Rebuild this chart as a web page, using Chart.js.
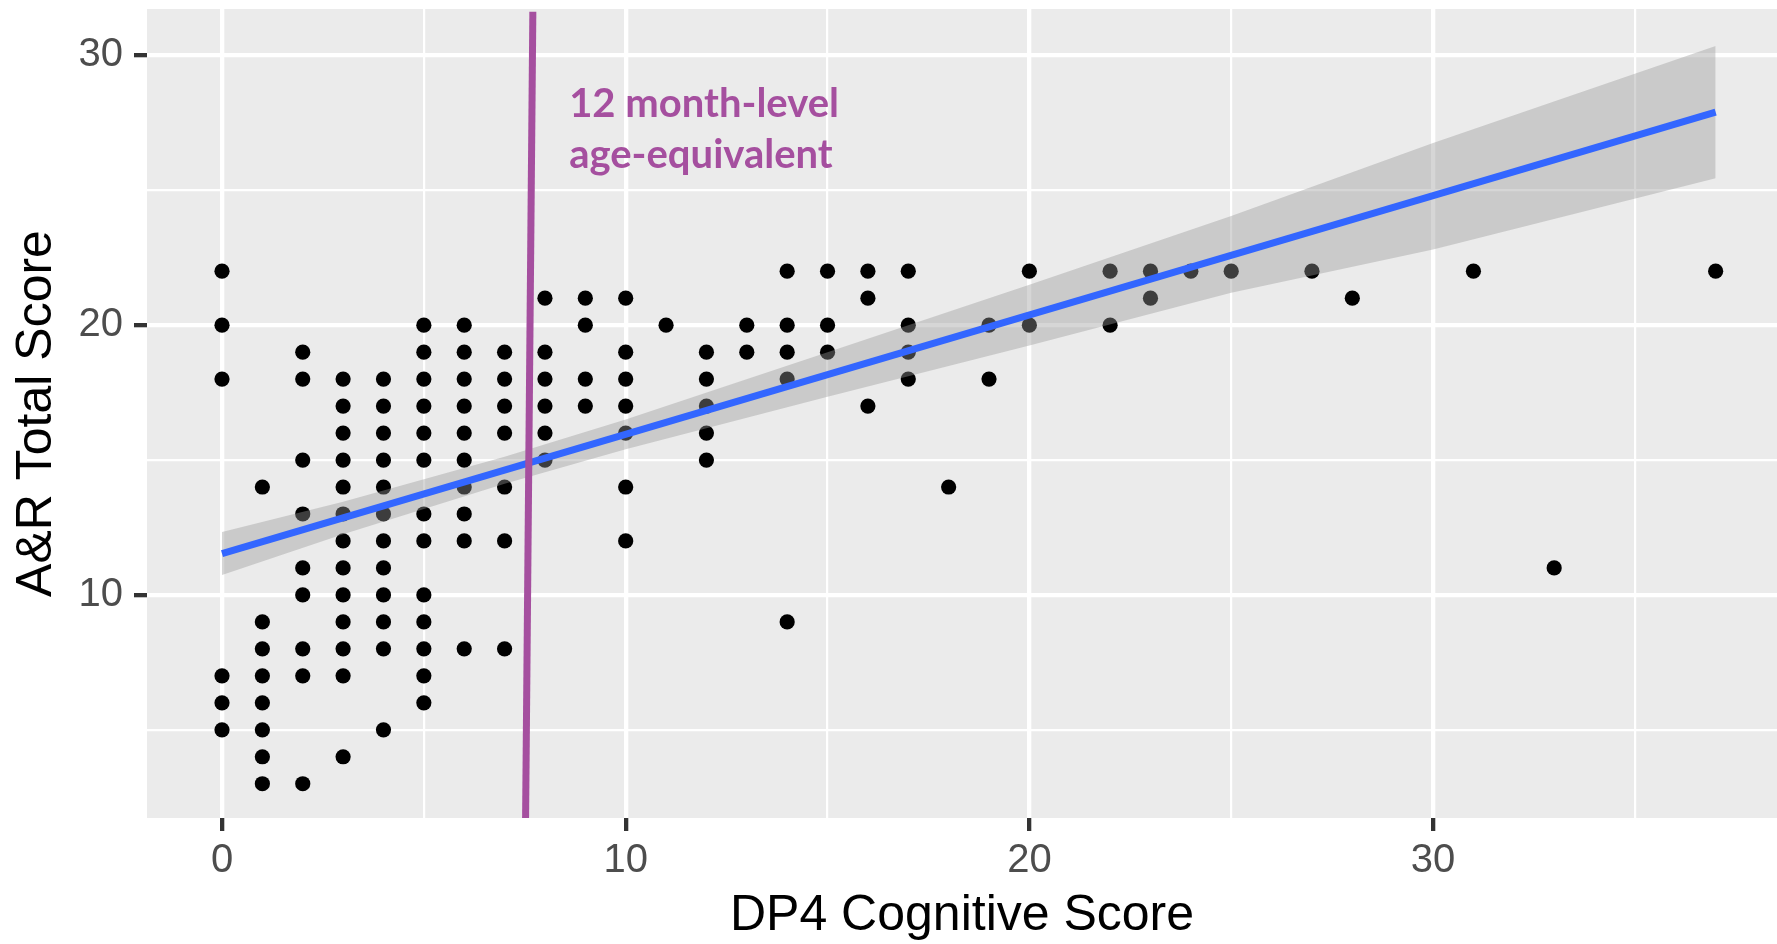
<!DOCTYPE html>
<html>
<head>
<meta charset="utf-8">
<script src="https://cdn.jsdelivr.net/npm/chart.js@4.4.1/dist/chart.umd.min.js"></script>
<style>
  body { margin:0; background:#fff; }
  canvas { display:block; }
</style>
</head>
<body>
<canvas id="dp4_chart" width="1777" height="944"></canvas>
<script>
// DP4 cognitive score (x) and the A&R scores seen at each one
const dp4Scores = [0,1,2,3,4,5,6,7,8,9,10,11,12,13,14,15,16,17,18,19,20,22,23,24,25,27,28,31,33,37];
const arScores = [
    [22,20,18,7,6,5],
    [14,9,8,7,6,5,4,3],
    [19,18,15,13,11,10,8,7,3],
    [18,17,16,15,14,13,12,11,10,9,8,7,4],
    [18,17,16,15,14,13,12,11,10,9,8,5],
    [20,19,18,17,16,15,13,12,10,9,8,7,6],
    [20,19,18,17,16,15,14,13,12,8],
    [19,18,17,16,14,12,8],
    [21,19,18,17,16,15],
    [21,20,18,17],
    [21,19,18,17,16,14,12],
    [20],
    [19,18,17,16,15],
    [20,19],
    [22,20,19,18,9],
    [22,20,19],
    [22,21,17],
    [22,20,19,18],
    [14],
    [20,18],
    [22,20],
    [22,20],
    [22,21],
    [22],
    [22],
    [22],
    [21],
    [22],
    [11],
    [22]
];

// linear fit and its confidence band
const fitX = [0, 37];
const fitY = [11.53, 27.9];
const bandX = [0, 3, 7, 10, 15, 20, 25, 30, 37];
const bandUpper = [12.33, 13.45, 15.12, 16.5, 19.0, 21.5, 24.05, 26.75, 30.35];
const bandLower = [10.74, 12.25, 14.12, 15.4, 17.35, 19.25, 21.2, 22.8, 25.45];

// 12 month-level cut-off line
const cutoffX = [7.52, 7.70];
const cutoffY = [1.73, 31.62];

const xTicks = [0, 5, 10, 15, 20, 25, 30, 35];
const yTicks = [5, 10, 15, 20, 25, 30];
const cutoffLabel = ["12 month-level", "age-equivalent"];

let points = new Array();
for(let i=0; i<dp4Scores.length; i++) {
    for(let j=0; j<arScores[i].length; j++) {
        points.push({x:dp4Scores[i], y:arScores[i][j]});
    }
}
const pairs = (xs, ys) => xs.map((x, i) => ({x:x, y:ys[i]}));

const isMajor = v => v % 10 === 0;

const panelBg = {
    id:"panelBg",
    beforeDraw(chart) {
        const a = chart.chartArea;
        const ctx = chart.ctx;
        ctx.save();
        ctx.fillStyle = "#EBEBEB";
        ctx.fillRect(a.left, a.top, a.right - a.left, a.bottom - a.top);
        ctx.restore();
    }
};

const cutoffText = {
    id:"cutoffText",
    afterDatasetsDraw(chart) {
        const ctx = chart.ctx;
        const px = chart.scales.x.getPixelForValue(8.6);
        const py = chart.scales.y.getPixelForValue(27.73);
        ctx.save();
        ctx.fillStyle = "#A54F9F";
        ctx.font = "bold 40px Lato";
        ctx.textBaseline = "alphabetic";
        ctx.textAlign = "left";
        ctx.fillText(cutoffLabel[0], px, py);
        ctx.fillText(cutoffLabel[1], px, py + 51);
        ctx.restore();
    }
};

// keep the panel where the reference has it, no extra room for labels
const fitBox = (s, size) => {
    if (s.isHorizontal()) s.height = size; else s.width = size;
    s.paddingTop = 0;
    s.paddingBottom = 0;
    s.paddingLeft = 0;
    s.paddingRight = 0;
};

const tickFont = {family:"Liberation Sans", size:40};

new Chart(document.getElementById("dp4_chart"), {
    type:"scatter",
    plugins:[panelBg, cutoffText],
    data:{
        datasets:[
            {
                label:"cutoff",
                data:pairs(cutoffX, cutoffY),
                showLine:true,
                borderColor:"#A54F9F",
                borderWidth:7,
                borderCapStyle:"butt",
                pointRadius:0,
                order:0
            },
            {
                label:"fit",
                data:pairs(fitX, fitY),
                showLine:true,
                borderColor:"#3366FF",
                borderWidth:7,
                pointRadius:0,
                order:1
            },
            {
                label:"upper",
                data:pairs(bandX, bandUpper),
                showLine:true,
                borderWidth:0,
                borderColor:"rgba(0,0,0,0)",
                backgroundColor:"rgba(153,153,153,0.4)",
                fill:"+1",
                pointRadius:0,
                order:2
            },
            {
                label:"lower",
                data:pairs(bandX, bandLower),
                showLine:true,
                borderWidth:0,
                borderColor:"rgba(0,0,0,0)",
                pointRadius:0,
                order:2
            },
            {
                label:"A&R",
                data:points,
                backgroundColor:"#000000",
                borderWidth:0,
                pointRadius:7.6,
                pointHoverRadius:7.6,
                order:3
            }
        ]
    },
    options:{
        responsive:false,
        animation:false,
        layout:{autoPadding:false, padding:{top:9, left:0, right:0, bottom:0}},
        plugins:{
            legend:{display:false},
            tooltip:{enabled:false}
        },
        scales:{
            x:{
                type:"linear",
                min:-1.858,
                max:38.52,
                afterBuildTicks:s => { s.ticks = xTicks.map(v => ({value:v})); },
                afterFit:s => fitBox(s, 126),
                border:{display:false},
                grid:{
                    color:"#FFFFFF",
                    lineWidth:c => isMajor(c.tick.value) ? 4.3 : 2.2,
                    tickColor:c => isMajor(c.tick.value) ? "#333333" : "rgba(0,0,0,0)",
                    tickWidth:4.3,
                    tickLength:13
                },
                ticks:{
                    color:"#4D4D4D",
                    font:tickFont,
                    padding:6,
                    maxRotation:0,
                    autoSkip:false,
                    callback:v => isMajor(v) ? String(v) : ""
                },
                title:{
                    display:true,
                    text:"DP4 Cognitive Score",
                    color:"#000000",
                    font:{family:"Liberation Sans", size:50, lineHeight:1},
                    padding:{top:0, bottom:3}
                }
            },
            y:{
                min:1.73,
                max:31.72,
                afterBuildTicks:s => { s.ticks = yTicks.map(v => ({value:v})); },
                afterFit:s => fitBox(s, 147),
                border:{display:false},
                grid:{
                    color:"#FFFFFF",
                    lineWidth:c => isMajor(c.tick.value) ? 4.3 : 2.2,
                    tickColor:c => isMajor(c.tick.value) ? "#333333" : "rgba(0,0,0,0)",
                    tickWidth:4.3,
                    tickLength:13
                },
                ticks:{
                    color:"#4D4D4D",
                    font:tickFont,
                    padding:11,
                    autoSkip:false,
                    callback:v => isMajor(v) ? String(v) : ""
                },
                title:{
                    display:true,
                    text:"A&R Total Score",
                    color:"#000000",
                    font:{family:"Liberation Sans", size:50, lineHeight:1},
                    padding:{top:12, bottom:0}
                }
            }
        }
    }
});
</script>
</body>
</html>
